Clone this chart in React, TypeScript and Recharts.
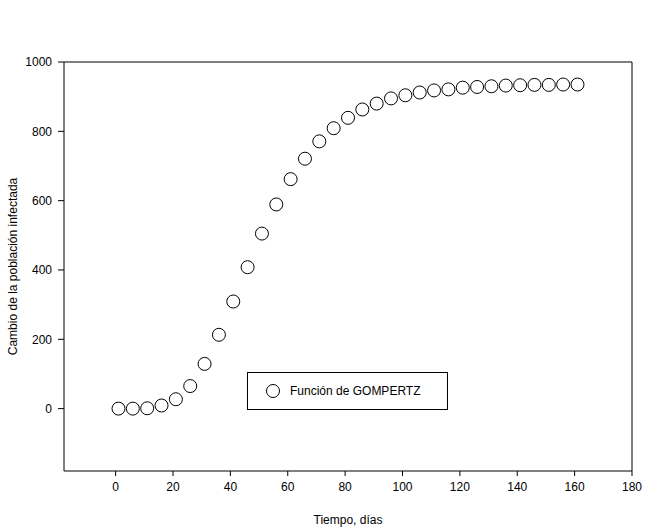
import {
  ScatterChart,
  Scatter,
  XAxis,
  YAxis,
  Legend,
  ReferenceLine,
} from 'recharts'

// Days since start (sampled every 5 days)
const days = [
  1, 6, 11, 16, 21, 26, 31, 36, 41, 46, 51, 56, 61, 66, 71, 76, 81,
  86, 91, 96, 101, 106, 111, 116, 121, 126, 131, 136, 141, 146, 151, 156, 161,
]
// Gompertz curve values
const infected = [
  0, 0, 1, 9, 27, 65, 129, 213, 309, 408, 505, 589, 662, 721, 771, 809, 839,
  863, 880, 895, 904, 912, 918, 921, 926, 928, 930, 932, 933, 934, 934, 935, 935,
]
const xTicks = [0, 20, 40, 60, 80, 100, 120, 140, 160, 180]
const yTicks = [0, 200, 400, 600, 800, 1000]
const xDomain = [-18, 180]
const yDomain = [-180, 1000]
const seriesName = 'Función de GOMPERTZ'

const data = days.map((d, i) => ({ x: d, y: infected[i] }))

const FONT = '"Liberation Sans", Arial, sans-serif'
const tickStyle = { fill: '#000', fontSize: 12, fontFamily: FONT }

const OpenCircle = (props: any) => {
  const { cx, cy } = props
  if (cx == null || cy == null) return null
  return <circle cx={cx} cy={cy} r={6.5} fill="#fff" stroke="#000" strokeWidth={1} />
}

const LegendBox = () => (
  <div
    style={{
      width: 201,
      height: 38,
      border: '1px solid #000',
      background: '#fff',
      boxSizing: 'border-box',
      display: 'flex',
      alignItems: 'center',
      fontFamily: FONT,
      fontSize: 12,
      color: '#000',
    }}
  >
    <svg width={42} height={20} style={{ flexShrink: 0 }}>
      <circle cx={25} cy={10} r={6.5} fill="#fff" stroke="#000" strokeWidth={1} />
    </svg>
    <span>{seriesName}</span>
  </div>
)

export default function App() {
  return (
    <div style={{ position: 'absolute', left: 0, top: 0, background: '#fff' }}>
      <ScatterChart
        width={666}
        height={531}
        margin={{ top: 62, right: 34, left: 0, bottom: 0 }}
      >
        <XAxis
          type="number"
          dataKey="x"
          domain={xDomain}
          ticks={xTicks}
          allowDataOverflow
          height={60}
          stroke="#000"
          tickSize={5}
          tickMargin={6}
          tick={tickStyle}
          label={{
            value: 'Tiempo, días',
            position: 'insideBottom',
            offset: 7,
            style: { fill: '#000', fontSize: 12, fontFamily: FONT },
          }}
        />
        <YAxis
          type="number"
          dataKey="y"
          domain={yDomain}
          ticks={yTicks}
          allowDataOverflow
          width={64}
          stroke="#000"
          tickSize={6}
          tickMargin={6}
          tick={tickStyle}
          label={{
            value: 'Cambio de la población infectada',
            angle: -90,
            position: 'insideLeft',
            offset: 13,
            style: { fill: '#000', fontSize: 12, fontFamily: FONT, textAnchor: 'middle' },
          }}
        />
        {/* close the frame on top and right */}
        <ReferenceLine y={yDomain[1]} stroke="#000" ifOverflow="visible" />
        <ReferenceLine x={xDomain[1]} stroke="#000" ifOverflow="visible" />
        <Legend
          layout="horizontal"
          verticalAlign="middle"
          align="center"
          content={<LegendBox />}
          wrapperStyle={{ left: 247, top: 372, width: 201, height: 38 }}
        />
        <Scatter
          name={seriesName}
          data={data}
          shape={<OpenCircle />}
          isAnimationActive={false}
        />
      </ScatterChart>
    </div>
  )
}
